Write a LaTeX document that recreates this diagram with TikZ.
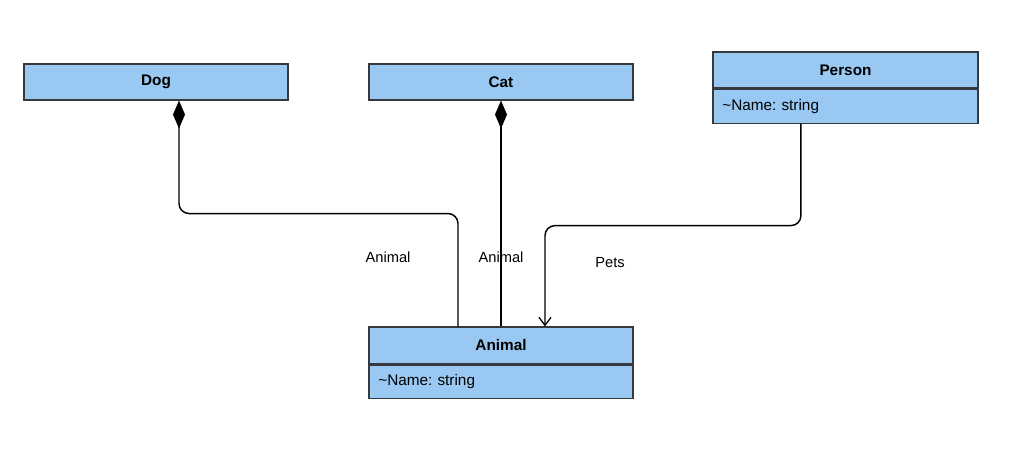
\documentclass[tikz,border=0pt]{standalone}
\usepackage{fontspec}
\setmainfont{Liberation Sans}
\usetikzlibrary{arrows.meta}
\frenchspacing

\definecolor{classfill}{RGB}{153,201,243}
\definecolor{classline}{RGB}{54,57,61}

\tikzset{
    classhead/.style={draw=classline, fill=classfill, line width=0.8pt, minimum width=198pt, minimum height=27pt, inner sep=0pt, font=\bfseries\fontsize{11.5pt}{13pt}\selectfont},
    classrow/.style={draw=classline, fill=classfill, line width=0.8pt, text width=184pt, inner xsep=7pt, inner ysep=0pt, minimum height=25.5pt, align=left, font=\fontsize{11.5pt}{13pt}\selectfont},
    assoclabel/.style={font=\fontsize{11pt}{13pt}\selectfont, inner sep=0pt},
    comp/.style={line width=1.1pt, rounded corners=7.5pt, {Diamond[length=21pt, width=9pt]}-},
    ref/.style={line width=1.1pt, rounded corners=7.5pt, -{Straight Barb[length=6pt, width=9pt, line width=1pt]}}
}

\begin{document}
\begin{tikzpicture}[x=0.75pt, y=-0.75pt]
    \useasboundingbox (0,0) rectangle (1024,466);

    % classes
    \node [classhead] (dog) at (156,82) {Dog};
    \node [classhead] (cat) at (501,82) {Cat};
    \node [classhead, minimum width=198.75pt] (person) at (845.5,70) {Person};
    \node [classrow, text width=184.75pt, minimum height=25.5pt, anchor=north] (personrow) at (person.south) {\textasciitilde Name: string};
    \node [classhead, minimum height=27.75pt] (animal) at (501,345.5) {Animal};
    \node [classrow, minimum height=24.75pt, anchor=north] (animalrow) at (animal.south) {\textasciitilde Name: string};

    % labels
    \node [assoclabel] (dogrole) at (388,257) {Animal};
    \node [assoclabel] (catrole) at (501,257) {Animal};
    \node [assoclabel] (petsrole) at (610,263) {Pets};

    % associations
    \draw [comp] ([xshift=17.25pt]dog.south) -- ++(0,113) -| ([xshift=-32.25pt]animal.north);
    \draw [comp] (cat.south) -- (animal.north);
    \draw [ref] ([xshift=-33.4pt]personrow.south) -- ++(0,102) -| ([xshift=33pt]animal.north);
\end{tikzpicture}
\end{document}
